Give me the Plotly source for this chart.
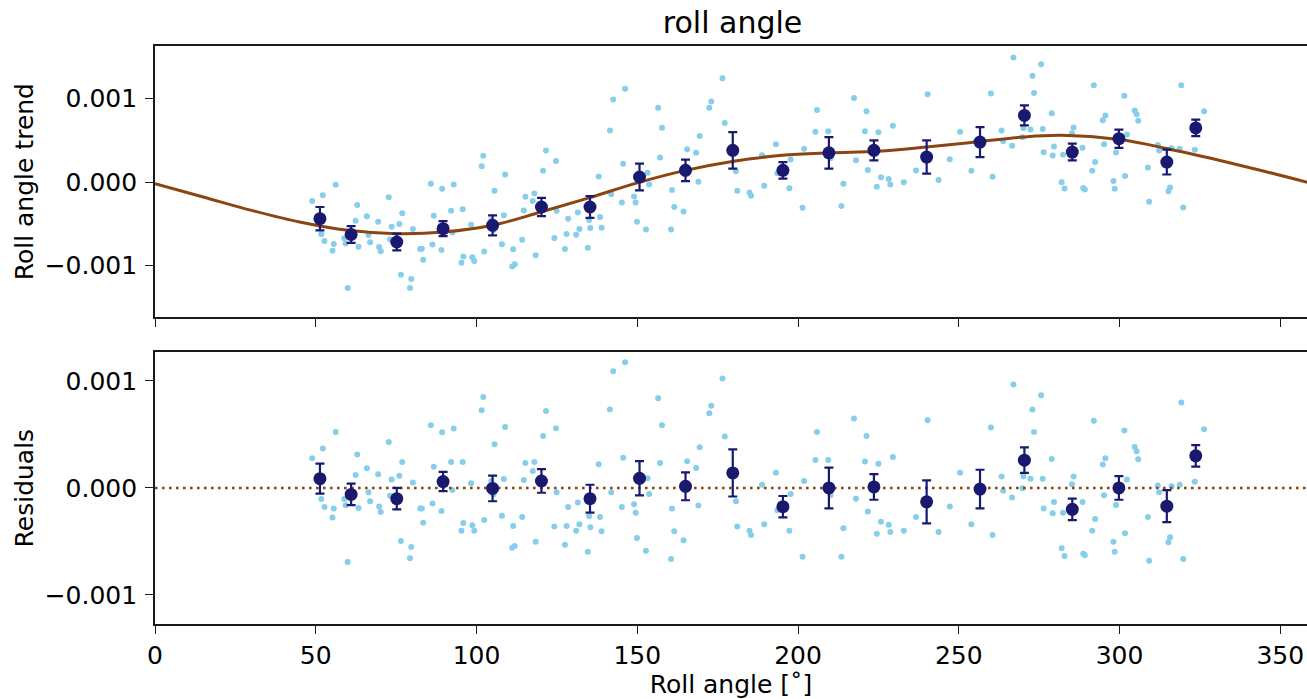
import numpy as np
import plotly.graph_objects as go
from plotly.subplots import make_subplots

# ---- data (values in units of 1e-3) ----
SCALE = 1e-3

# individual measurements: roll angle [deg] and residual w.r.t. the fitted trend
point_x = [
    48.9, 52.2, 56.2, 51.7, 52.7, 55.6, 55.2, 59.9, 59.3, 58.9, 62.9, 62.4, 63.3, 65.9, 66.4, 66.9,
    69.4, 69.7, 70.2, 72.7, 73.6, 73.1, 76.0, 76.9, 76.5, 79.7, 79.3, 80.2, 82.5, 83.0, 83.4, 85.8,
    86.7, 86.3, 89.1, 89.3, 92.9, 92.1, 92.5, 95.7, 95.9, 95.3, 98.3, 98.7, 99.3, 101.6, 102.1, 102.4,
    105.6, 104.6, 105.3, 107.9, 108.5, 108.9, 111.4, 111.1, 111.9, 114.2, 114.7, 115.2,
    118.0, 117.5, 118.4, 120.7, 121.6, 124.7, 124.9, 124.2, 127.5, 128.0, 128.5, 131.5, 131.0, 132.0,
    134.6, 135.0, 135.4, 138.4, 138.9, 138.0, 141.5, 142.5, 146.2, 141.9, 145.2, 145.6, 149.0, 149.5,
    149.9, 152.7, 153.2, 153.7, 156.5, 157.7, 157.1, 160.8, 161.5, 160.5, 164.4, 165.5, 168.3, 169.0,
    169.4, 172.4, 173.0, 176.5, 177.2, 180.7, 181.1, 184.9, 185.4,
    188.8, 189.5, 193.1, 193.6, 197.3, 197.7, 201.4, 201.9, 205.4, 205.9, 209.4, 210.1, 213.5, 214.1,
    217.4, 218.0, 220.8, 221.3, 221.7, 225.0, 225.8, 224.5, 228.2, 228.7, 229.5, 232.9, 236.7, 240.3,
    243.7, 247.2, 250.4, 253.9,
    260.0, 260.5, 263.3, 263.8, 266.6, 267.0, 270.1, 269.8, 272.3, 272.9, 273.4, 275.6, 276.1, 276.4,
    278.9, 279.6, 279.2, 282.4, 282.0, 282.9, 285.7, 285.2, 288.5, 288.7, 289.2, 291.5, 292.0, 292.4,
    294.8, 295.6, 295.2, 298.1, 298.5, 298.9, 301.5, 301.7, 302.3, 304.7, 305.3, 305.8, 308.8, 309.2,
    311.9, 312.3, 315.2, 315.7, 316.2, 318.7, 319.2, 319.8, 323.4, 326.3,
]
point_resid = [
    0.277, 0.368, 0.523, -0.103, -0.178, -0.193, -0.277, -0.692, -0.162, -0.103, 0.312, 0.121, -0.187, 0.184, -0.040, -0.125,
    0.128, -0.174, -0.224, 0.430, 0.078, -0.072, 0.115, 0.243, -0.495, -0.551, -0.657, 0.050, -0.193, -0.193, -0.324, 0.586,
    0.199, -0.146, -0.215, 0.520, 0.555, 0.243, -0.019, 0.243, -0.327, -0.399, 0.044, -0.349, -0.399, 0.726, 0.850, -0.299,
    0.408, 0.065, -0.059, -0.259, 0.084, 0.570, -0.355, -0.558, -0.542, -0.271, 0.075, 0.234,
    0.243, 0.159, -0.502, 0.486, 0.720, 0.558, -0.040, -0.361, -0.530, -0.355, -0.178, -0.137, -0.399, -0.340,
    -0.595, -0.265, -0.368, -0.271, -0.405, 0.221, 0.732, 1.090, 1.174, -0.040, -0.178, 0.283, -0.153, -0.231,
    -0.467, -0.586, 0.090, -0.056, 0.838, 0.586, 0.234, -0.193, -0.405, -0.664, -0.489, 0.249, 0.187, -0.165,
    0.380, 0.698, 0.769, 1.022, 0.480, -0.125, -0.361, -0.399, -0.439,
    0.031, -0.340, 0.143, -0.209, -0.399, -0.056, -0.642, 0.065, 0.262, 0.523, 0.262, -0.065, -0.642, -0.377,
    0.648, -0.100, 0.246, 0.486, -0.221, 0.227, -0.315, -0.427, -0.343, -0.411, 0.290, -0.399, -0.271, 0.632,
    -0.411, -0.174, 0.143, -0.340,
    0.564, -0.439, 0.106, -0.025, -0.090, 0.966, 0.109, -0.003, 0.087, 0.732, 0.523, 0.866, 0.087, -0.193,
    0.271, -0.131, -0.237, -0.231, -0.564, -0.636, 0.106, 0.034, -0.131, -0.614, -0.629, -0.399, 0.629, -0.290,
    0.218, 0.277, -0.069, -0.502, -0.595, -0.159, 0.536, -0.424, 0.078, 0.383, 0.343, 0.268, -0.271, -0.679,
    0.022, -0.040, -0.508, -0.461, 0.016, 0.031, 0.798, -0.664, 0.059, 0.548,
]

# fitted trend curve samples
model_x = [0, 15, 30, 45, 60, 75, 90, 105, 120, 135, 150, 165, 180, 195, 210, 225, 240, 255, 270, 282, 300, 315, 330, 345, 360]
model_y = [-0.02, -0.18, -0.34, -0.48, -0.58, -0.62, -0.60, -0.52, -0.36, -0.19, -0.01, 0.14, 0.25, 0.32, 0.35,
           0.37, 0.42, 0.48, 0.54, 0.56, 0.51, 0.40, 0.27, 0.13, -0.02]

# binned means
bin_x = [51.3, 61.0, 75.2, 89.6, 105.0, 120.2, 135.3, 150.7, 165.0, 179.7, 195.3, 209.6, 223.6, 240.0,
         256.6, 270.4, 285.3, 299.8, 314.7, 323.7]
bin_trend = [-0.44, -0.63, -0.72, -0.56, -0.52, -0.30, -0.30, 0.06, 0.14, 0.38, 0.14, 0.35, 0.38, 0.30,
             0.48, 0.80, 0.36, 0.52, 0.24, 0.65]
bin_resid = [0.087, -0.06, -0.10, 0.06, -0.004, 0.065, -0.10, 0.09, 0.015, 0.14, -0.175, 0.0, 0.01, -0.13,
             -0.01, 0.26, -0.20, 0.0, -0.17, 0.30]
bin_err = [0.14, 0.10, 0.10, 0.09, 0.12, 0.11, 0.13, 0.16, 0.13, 0.22, 0.10, 0.19, 0.12, 0.20,
           0.18, 0.12, 0.10, 0.11, 0.15, 0.10]

# ---- derived arrays ----
px = np.array(point_x)
pres = np.array(point_resid) * SCALE
mx = np.array(model_x, dtype=float)
my = np.array(model_y) * SCALE
ptrend = np.interp(px, mx, my) + pres

X_MAX = 358.3
FONT = "DejaVu Sans"
FS = 25
SPINE = "#1a1a1a"
LIGHT = "#87CEEB"
NAVY = "#191970"
BROWN = "#8B4513"

fig = make_subplots(rows=2, cols=1, shared_xaxes=True)

# top panel
fig.add_trace(go.Scatter(x=px, y=ptrend, mode="markers",
                         marker=dict(color=LIGHT, size=6, line=dict(width=0)),
                         showlegend=False, hoverinfo="skip"), row=1, col=1)
fig.add_trace(go.Scatter(x=mx, y=my, mode="lines",
                         line=dict(color=BROWN, width=3, shape="spline", smoothing=1.0),
                         showlegend=False), row=1, col=1)
fig.add_trace(go.Scatter(x=bin_x, y=np.array(bin_trend) * SCALE, mode="markers",
                         marker=dict(color=NAVY, size=13),
                         error_y=dict(type="data", array=np.array(bin_err) * SCALE,
                                      color=NAVY, thickness=2.2, width=4.5),
                         showlegend=False), row=1, col=1)

# bottom panel
fig.add_trace(go.Scatter(x=px, y=pres, mode="markers",
                         marker=dict(color=LIGHT, size=6, line=dict(width=0)),
                         showlegend=False, hoverinfo="skip"), row=2, col=1)
fig.add_trace(go.Scatter(x=[0, X_MAX], y=[0, 0], mode="lines",
                         line=dict(color=BROWN, width=2.6, dash="2.6px,4.4px"),
                         showlegend=False), row=2, col=1)
fig.add_trace(go.Scatter(x=bin_x, y=np.array(bin_resid) * SCALE, mode="markers",
                         marker=dict(color=NAVY, size=13),
                         error_y=dict(type="data", array=np.array(bin_err) * SCALE,
                                      color=NAVY, thickness=2.2, width=4.5),
                         showlegend=False), row=2, col=1)

xticks = [0, 50, 100, 150, 200, 250, 300, 350]
common_x = dict(range=[0, X_MAX], tickvals=xticks, ticks="outside", ticklen=8, tickwidth=1.4,
                tickcolor=SPINE, showline=True, linecolor=SPINE, linewidth=1.6, mirror=True,
                showgrid=False, zeroline=False, tickfont=dict(family=FONT, size=FS, color="black"))
fig.update_xaxes(**common_x)
fig.update_xaxes(showticklabels=False, row=1, col=1)
fig.update_xaxes(title=dict(text="Roll angle [˚]", font=dict(family=FONT, size=FS, color="black"),
                            standoff=6), row=2, col=1)

yt = [-0.001, 0.0, 0.001]
ytt = ["−0.001", "0.000", "0.001"]
common_y = dict(tickvals=yt, ticktext=ytt, ticks="outside", ticklen=8, tickwidth=1.4,
                tickcolor=SPINE, showline=True, linecolor=SPINE, linewidth=1.6, mirror=False,
                showgrid=False, zeroline=False, ticklabelstandoff=3,
                tickfont=dict(family=FONT, size=FS, color="black"))
fig.update_yaxes(**common_y)
fig.update_yaxes(range=[-0.001625, 0.001633],
                 title=dict(text="Roll angle trend", font=dict(family=FONT, size=FS, color="black"),
                            standoff=4), row=1, col=1)
fig.update_yaxes(range=[-0.001271, 0.001267],
                 title=dict(text="Residuals", font=dict(family=FONT, size=FS, color="black"),
                            standoff=4), row=2, col=1)

fig.update_layout(
    width=1307, height=699,
    margin=dict(l=155, r=0, t=46, b=75, autoexpand=False),
    paper_bgcolor="white", plot_bgcolor="white",
    title=dict(text="roll angle", x=0.5605, xanchor="center", y=(699 - 22) / 699, yanchor="middle",
               font=dict(family=FONT, size=30, color="black")),
    font=dict(family=FONT, color="black"),
)
fig.layout.yaxis.domain = [0.5305, 1.0]
fig.layout.yaxis2.domain = [0.0, 0.47]

fig.write_html(
    "out.html",
    config={"displayModeBar": False},
    post_script="document.body.style.margin='0';document.body.style.padding='0';"
                "document.body.style.overflow='hidden';",
)
